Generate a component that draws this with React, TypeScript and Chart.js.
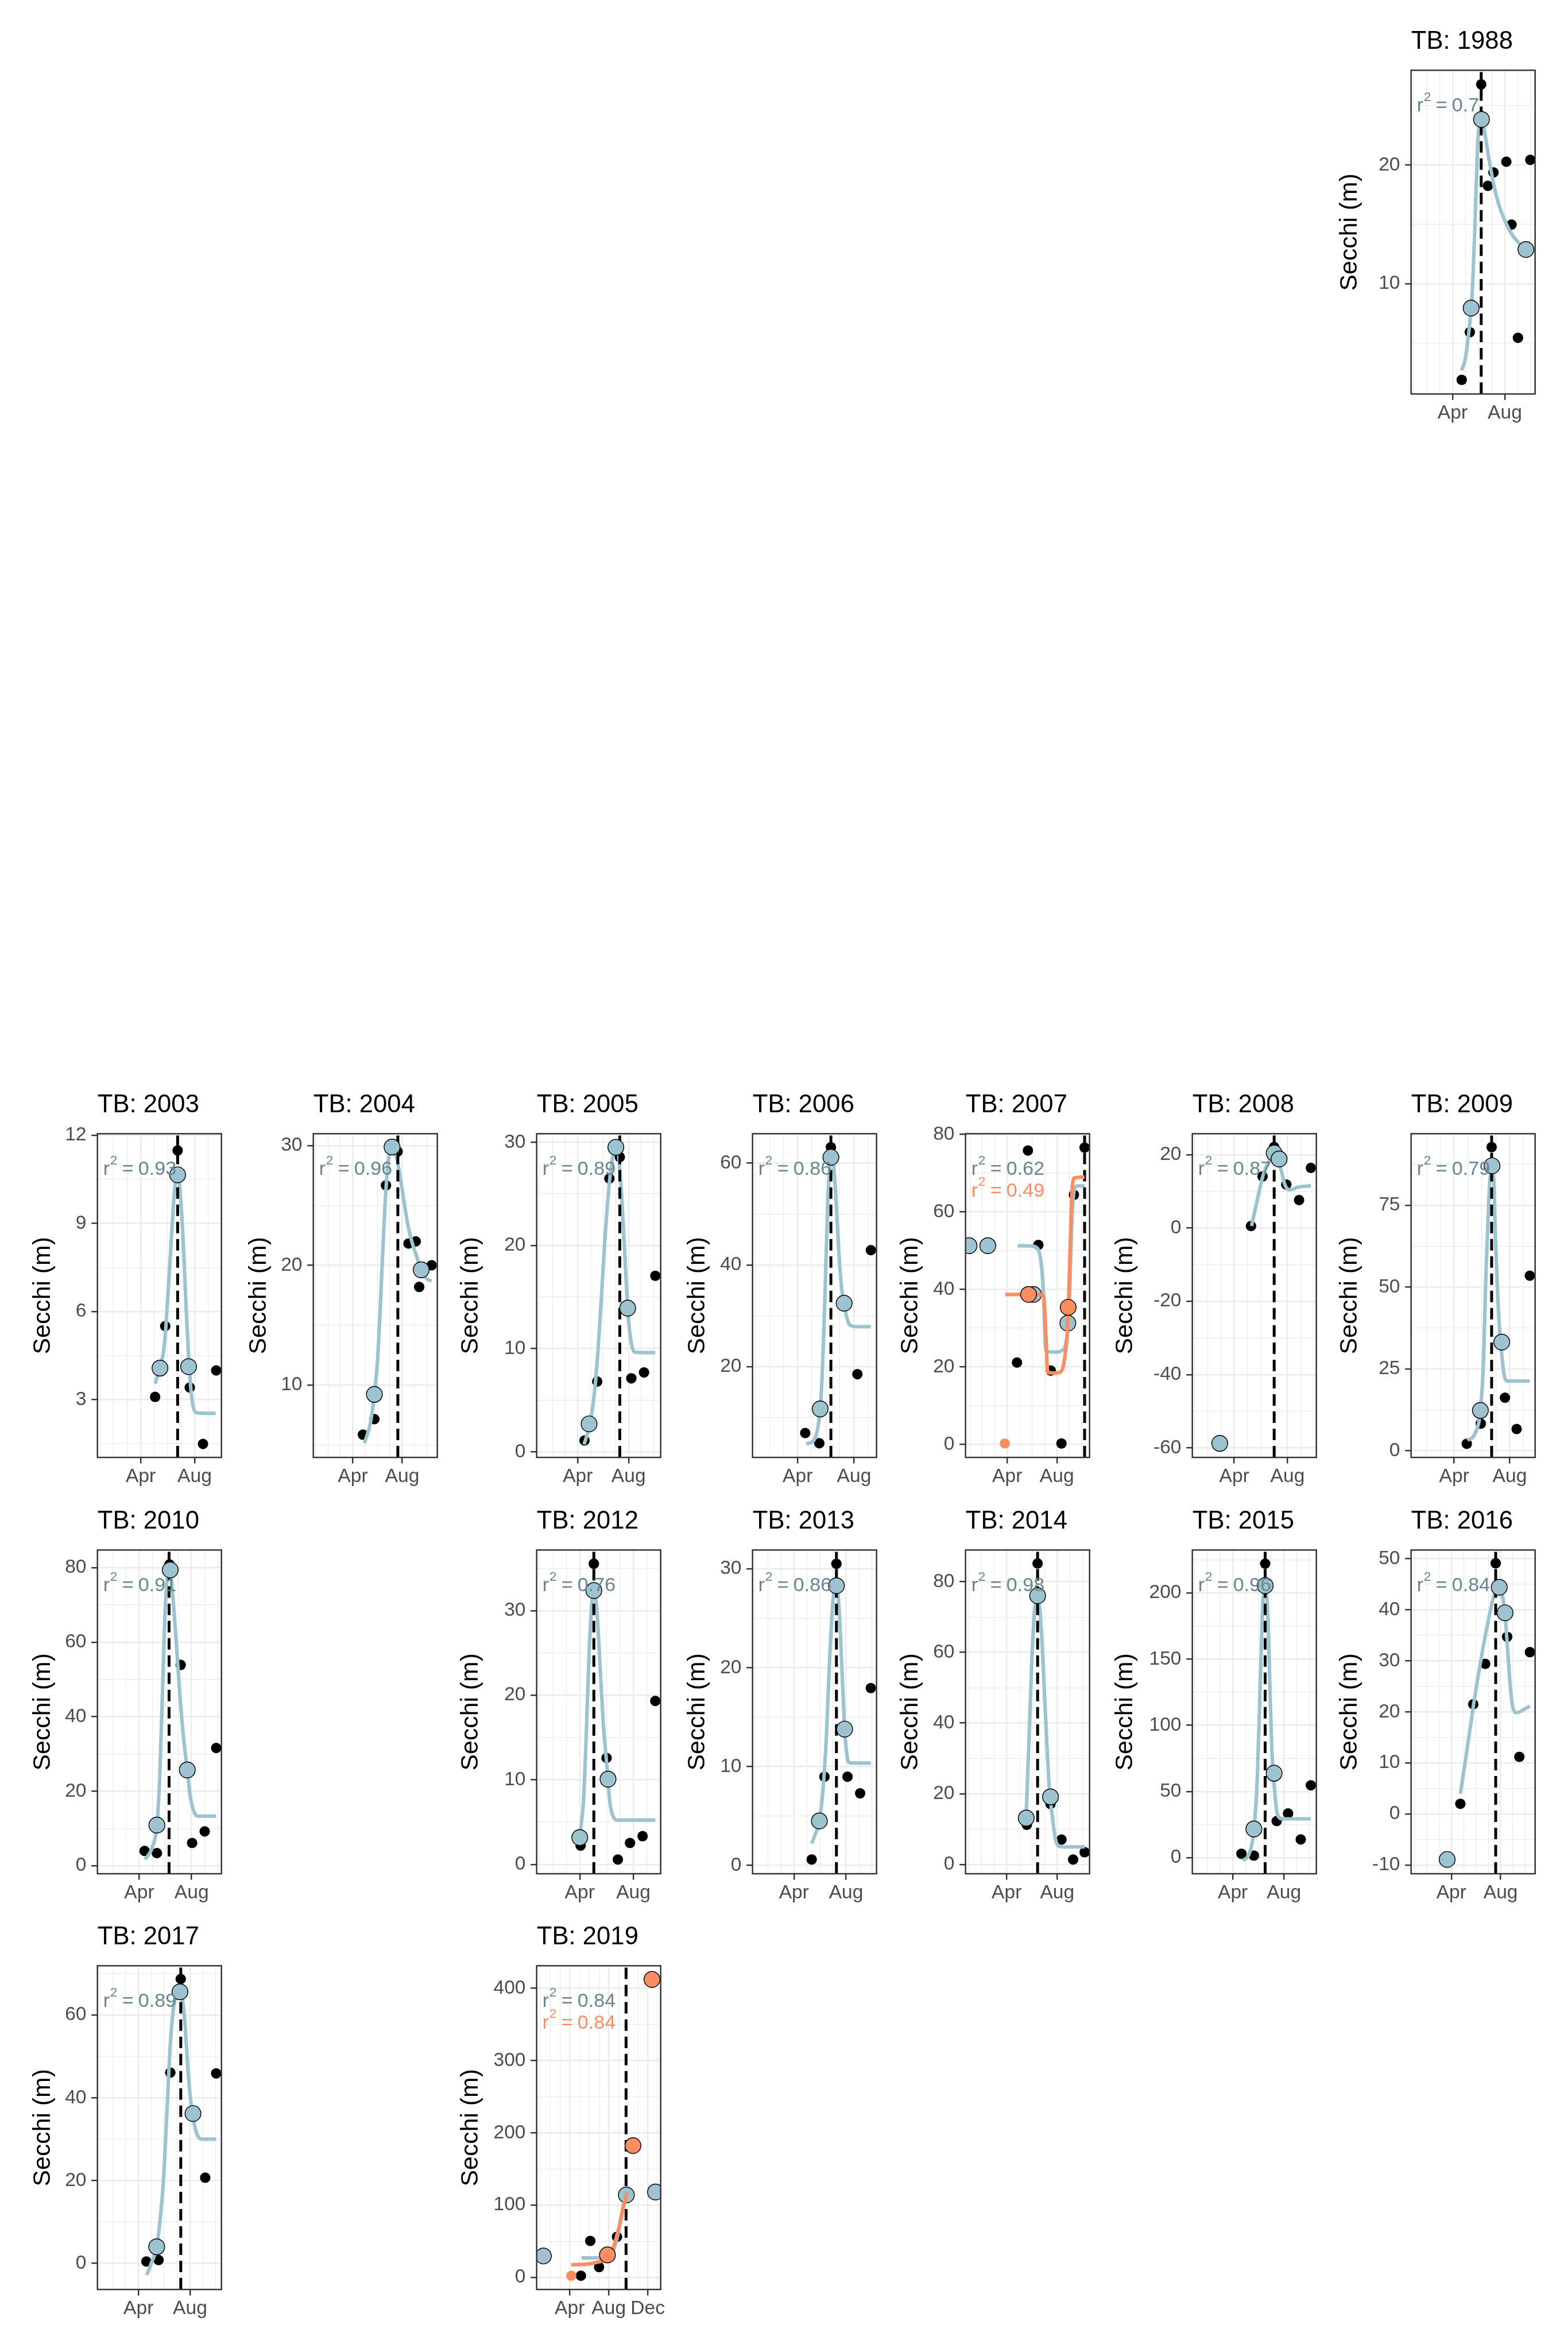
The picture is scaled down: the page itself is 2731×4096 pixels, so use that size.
import React, { useEffect, useRef } from 'react';
import { Chart, registerables } from 'chart.js';

Chart.register(...registerables);

type Pt = [number, number];

// x values are months since 1 January (Apr = 3, Aug = 7, Dec = 11); y values are Secchi (m)
const monthBreaks = [3, 7, 11];
const monthLabels = ['Apr', 'Aug', 'Dec'];
const yTitleText = 'Secchi (m)';
const titlePrefix = 'TB: ';

// ---- 1988 ----
const obs1988: Pt[] = [[3.70, 1.91], [4.32, 5.92], [5.19, 26.78], [5.70, 18.24], [6.13, 19.37], [7.11, 20.27], [7.51, 14.98], [8.00, 5.45], [8.94, 20.43]];
const fit1988: Pt[] = [[4.42, 7.95], [5.21, 23.83], [8.61, 12.88]];
const curve1988: Pt[] = [[3.67, 2.7], [3.94, 3.5], [4.20, 5.5], [4.42, 7.95], [4.54, 10.0], [4.70, 14.5], [4.90, 21.3], [5.01, 23.1], [5.21, 24.0], [5.43, 22.9], [5.77, 20.6], [6.10, 18.6], [6.50, 16.8], [7.04, 15.2], [7.57, 14.1], [8.10, 13.4], [8.51, 13.0]];
const peak1988 = 5.19;
const r2_1988 = '0.7';
const xLim1988: Pt = [-0.17, 9.31];
const yLim1988: Pt = [0.72, 27.97];
const yBreaks1988 = [10, 20];

// ---- 2003 ----
const obs2003: Pt[] = [[4.07, 3.09], [4.82, 5.50], [5.74, 11.48], [6.64, 3.41], [7.62, 1.49], [8.60, 3.99]];
const fit2003: Pt[] = [[4.43, 4.07], [5.74, 10.65], [6.55, 4.12]];
const curve2003: Pt[] = [[4.07, 3.54], [4.50, 4.22], [4.71, 4.67], [4.88, 5.57], [5.03, 6.65], [5.25, 8.27], [5.46, 9.81], [5.61, 10.53], [5.78, 10.71], [5.89, 10.26], [6.06, 9.18], [6.21, 7.82], [6.38, 6.02], [6.53, 4.67], [6.68, 3.59], [6.85, 2.86], [7.17, 2.55], [8.56, 2.53]];
const peak2003 = 5.74;
const r2_2003 = '0.93';
const xLim2003: Pt = [-0.21, 8.99];
const yLim2003: Pt = [1.03, 12.05];
const yBreaks2003 = [3, 6, 9, 12];

// ---- 2004 ----
const obs2004: Pt[] = [[3.82, 5.86], [4.75, 7.16], [5.69, 26.67], [6.63, 29.49], [7.51, 21.81], [8.10, 21.99], [8.38, 18.19], [9.39, 20.0]];
const fit2004: Pt[] = [[4.75, 9.22], [6.18, 29.87], [8.54, 19.62]];
const curve2004: Pt[] = [[3.94, 5.15], [4.40, 6.71], [4.75, 9.22], [4.99, 11.86], [5.22, 16.33], [5.46, 21.92], [5.69, 26.40], [5.92, 29.08], [6.18, 29.87], [6.44, 29.42], [6.74, 27.96], [7.09, 25.73], [7.44, 23.49], [7.80, 21.92], [8.15, 20.81], [8.54, 19.62], [8.96, 18.90], [9.39, 18.68]];
const peak2004 = 6.65;
const r2_2004 = '0.96';
const xLim2004: Pt = [-0.20, 9.85];
const yLim2004: Pt = [3.96, 30.98];
const yBreaks2004 = [10, 20, 30];

// ---- 2005 ----
const obs2005: Pt[] = [[3.53, 1.09], [4.53, 6.81], [5.49, 26.49], [6.31, 28.57], [7.22, 7.12], [8.22, 7.69], [9.11, 17.06]];
const fit2005: Pt[] = [[3.89, 2.70], [6.00, 29.51], [6.93, 13.92]];
const curve2005: Pt[] = [[3.49, 0.70], [3.89, 2.39], [4.27, 5.25], [4.60, 9.92], [4.93, 16.42], [5.27, 22.91], [5.60, 27.32], [5.93, 29.27], [6.16, 29.09], [6.42, 25.51], [6.71, 19.01], [6.93, 13.92], [7.16, 10.96], [7.49, 9.66], [8.38, 9.61], [9.11, 9.61]];
const peak2005 = 6.31;
const r2_2005 = '0.89';
const xLim2005: Pt = [-0.24, 9.53];
const yLim2005: Pt = [-0.55, 30.83];
const yBreaks2005 = [0, 10, 20, 30];

// ---- 2006 ----
const obs2006: Pt[] = [[3.54, 6.93], [4.54, 4.93], [5.36, 63.16], [7.24, 18.52], [8.20, 42.90]];
const fit2006: Pt[] = [[4.60, 11.68], [5.36, 61.16], [6.30, 32.47]];
const curve2006: Pt[] = [[3.60, 4.83], [4.14, 5.46], [4.44, 8.09], [4.60, 11.68], [4.74, 18.10], [4.94, 33.91], [5.14, 52.35], [5.34, 60.25], [5.48, 60.78], [5.68, 54.98], [5.94, 41.81], [6.14, 34.96], [6.30, 32.43], [6.48, 29.69], [6.74, 28.11], [7.24, 27.85], [8.20, 27.85]];
const peak2006 = 5.36;
const r2_2006 = '0.86';
const xLim2006: Pt = [-0.20, 8.60];
const yLim2006: Pt = [2.14, 65.8];
const yBreaks2006 = [20, 40, 60];

// ---- 2007 ----
const obs2007: Pt[] = [[3.79, 21.09], [4.67, 75.80], [5.51, 51.45], [6.51, 19.02], [7.37, 0.21], [8.37, 64.38], [9.23, 76.56]];
const fit2007: Pt[] = [[-0.07, 51.24], [1.44, 51.24], [5.12, 38.66], [7.88, 31.26]];
const curve2007: Pt[] = [[3.84, 51.24], [5.05, 51.11], [5.47, 50.41], [5.74, 46.61], [5.93, 38.31], [6.09, 24.48], [6.26, 23.93], [6.91, 23.79], [7.37, 24.14], [7.65, 25.17], [7.84, 28.63], [8.02, 38.31], [8.21, 57.68], [8.42, 65.98], [8.65, 66.67], [9.23, 66.67]];
const fitOrange2007: Pt[] = [[4.72, 38.66], [7.91, 35.34]];
const curveOrange2007: Pt[] = [[2.84, 38.66], [5.51, 38.66], [5.93, 38.31], [6.12, 27.94], [6.26, 18.60], [6.67, 18.40], [7.26, 18.60], [7.60, 21.72], [7.88, 31.40], [8.07, 50.76], [8.23, 65.98], [8.42, 68.74], [9.23, 68.95]];
const dotOrange2007: Pt[] = [[2.81, 0.21]];
const peak2007 = 9.23;
const r2_2007 = '0.62';
const r2Orange2007 = '0.49';
const xLim2007: Pt = [-0.35, 9.63];
const yLim2007: Pt = [-3.39, 80.14];
const yBreaks2007 = [0, 20, 40, 60, 80];

// ---- 2008 ----
const obs2008: Pt[] = [[4.26, 0.51], [5.13, 14.04], [6.00, 22.1], [6.91, 11.85], [7.87, 7.60], [8.76, 16.38]];
const fit2008: Pt[] = [[1.91, -58.76], [6.00, 20.40], [6.37, 18.80]];
const curve2008: Pt[] = [[4.30, 0.51], [4.74, 7.82], [5.17, 14.41], [5.61, 18.06], [5.93, 19.52], [6.26, 19.16], [6.52, 15.87], [6.80, 11.85], [7.17, 10.38], [7.78, 11.11], [8.76, 11.48]];
const peak2008 = 6.00;
const r2_2008 = '0.87';
const xLim2008: Pt = [-0.15, 9.17];
const yLim2008: Pt = [-62.6, 25.7];
const yBreaks2008 = [-60, -40, -20, 0, 20];

// ---- 2009 ----
const obs2009: Pt[] = [[3.91, 2.13], [4.92, 8.27], [5.70, 92.8], [6.66, 16.2], [7.50, 6.63], [8.45, 53.5]];
const fit2009: Pt[] = [[4.89, 12.3], [5.73, 87.1], [6.43, 33.2]];
const curve2009: Pt[] = [[3.97, 3.11], [4.54, 5.57], [4.89, 12.29], [5.11, 26.86], [5.30, 55.53], [5.49, 76.00], [5.60, 84.0], [5.73, 86.0], [5.86, 82.0], [5.99, 63.72], [6.24, 39.15], [6.43, 29.32], [6.62, 22.77], [6.87, 21.29], [8.45, 21.29]];
const peak2009 = 5.70;
const r2_2009 = '0.79';
const xLim2009: Pt = [-0.10, 8.83];
const yLim2009: Pt = [-2.05, 96.9];
const yBreaks2009 = [0, 25, 50, 75];

// ---- 2010 ----
const obs2010: Pt[] = [[3.41, 3.96], [4.35, 3.38], [5.31, 80.9], [6.17, 53.9], [7.04, 6.1], [8.00, 9.2], [8.88, 31.6]];
const fit2010: Pt[] = [[4.35, 10.9], [5.37, 79.4], [6.67, 25.7]];
const curve2010: Pt[] = [[3.44, 1.65], [3.97, 4.68], [4.35, 10.94], [4.57, 24.10], [4.80, 49.28], [5.01, 70.86], [5.20, 78.06], [5.37, 78.78], [5.57, 72.30], [5.84, 59.35], [6.11, 45.68], [6.37, 34.89], [6.67, 25.68], [6.91, 18.35], [7.24, 14.03], [7.51, 13.31], [8.88, 13.31]];
const peak2010 = 5.28;
const r2_2010 = '0.91';
const xLim2010: Pt = [-0.19, 9.28];
const yLim2010: Pt = [-2.16, 84.75];
const yBreaks2010 = [0, 20, 40, 60, 80];

// ---- 2012 ----
const obs2012: Pt[] = [[3.06, 2.22], [4.05, 35.54], [5.00, 12.58], [5.84, 0.57], [6.75, 2.53], [7.69, 3.33], [8.64, 19.32]];
const fit2012: Pt[] = [[3.00, 3.17], [4.05, 32.37], [5.11, 10.07]];
const curve2012: Pt[] = [[3.06, 4.12], [3.27, 7.29], [3.48, 15.20], [3.69, 24.71], [3.91, 31.04], [4.07, 31.99], [4.26, 30.41], [4.47, 24.71], [4.75, 16.79], [5.00, 12.04], [5.25, 7.29], [5.53, 5.54], [5.84, 5.23], [8.64, 5.23]];
const peak2012 = 4.05;
const r2_2012 = '0.76';
const xLim2012: Pt = [-0.22, 9.04];
const yLim2012: Pt = [-1.11, 37.16];
const yBreaks2012 = [0, 10, 20, 30];

// ---- 2013 ----
const obs2013: Pt[] = [[4.36, 0.60], [5.34, 8.97], [6.26, 30.51], [7.11, 8.97], [8.08, 7.29], [8.90, 17.94]];
const fit2013: Pt[] = [[4.95, 4.50], [6.26, 28.29], [6.89, 13.79]];
const curve2013: Pt[] = [[4.36, 2.22], [4.62, 3.09], [4.95, 4.50], [5.23, 7.70], [5.49, 13.12], [5.75, 21.25], [6.03, 27.21], [6.26, 28.16], [6.46, 26.12], [6.68, 19.89], [6.89, 13.79], [7.04, 11.49], [7.22, 10.41], [7.65, 10.35], [8.90, 10.35]];
const peak2013 = 6.26;
const r2_2013 = '0.86';
const xLim2013: Pt = [-0.18, 9.34];
const yLim2013: Pt = [-0.84, 31.9];
const yBreaks2013 = [0, 10, 20, 30];

// ---- 2014 ----
const obs2014: Pt[] = [[4.60, 11.2], [5.45, 85.2], [6.47, 17.1], [7.34, 7.0], [8.26, 1.37], [9.17, 3.42]];
const fit2014: Pt[] = [[4.55, 13.1], [5.45, 76.05], [6.47, 19.1]];
const curve2014: Pt[] = [[4.55, 14.42], [4.78, 36.43], [5.01, 59.20], [5.24, 72.87], [5.45, 74.76], [5.67, 70.59], [5.90, 55.41], [6.15, 36.43], [6.38, 21.25], [6.61, 13.66], [6.84, 7.59], [7.11, 5.16], [7.57, 4.93], [9.17, 4.93]];
const peak2014 = 5.45;
const r2_2014 = '0.98';
const xLim2014: Pt = [-0.25, 9.56];
const yLim2014: Pt = [-2.66, 89.0];
const yBreaks2014 = [0, 20, 40, 60, 80];

// ---- 2015 ----
const obs2015: Pt[] = [[3.68, 3.0], [4.65, 1.6], [5.53, 222.1], [6.43, 27.7], [7.32, 33.4], [8.31, 13.8], [9.10, 54.7]];
const fit2015: Pt[] = [[4.65, 21.7], [5.53, 205.5], [6.23, 63.8]];
const curve2015: Pt[] = [[3.75, -2.02], [4.24, 2.02], [4.65, 21.26], [4.92, 61.74], [5.15, 132.59], [5.33, 189.27], [5.53, 203.44], [5.71, 189.27], [5.89, 132.59], [6.05, 81.98], [6.23, 55.67], [6.43, 35.43], [6.62, 30.36], [6.95, 29.35], [9.10, 29.35]];
const peak2015 = 5.53;
const r2_2015 = '0.96';
const xLim2015: Pt = [-0.16, 9.53];
const yLim2015: Pt = [-12.1, 232.4];
const yBreaks2015 = [0, 50, 100, 150, 200];

// ---- 2016 ----
const obs2016: Pt[] = [[3.73, 2.0], [4.78, 21.5], [5.75, 29.4], [6.60, 49.1], [7.53, 34.7], [8.52, 11.2], [9.38, 31.7]];
const fit2016: Pt[] = [[2.66, -8.9], [6.89, 44.4], [7.36, 39.4]];
const curve2016: Pt[] = [[3.73, 3.94], [4.25, 12.23], [4.82, 21.68], [5.39, 30.08], [5.96, 37.43], [6.39, 42.15], [6.74, 44.25], [7.10, 43.20], [7.36, 39.00], [7.60, 31.13], [7.81, 24.30], [8.02, 20.63], [8.31, 19.84], [8.81, 20.37], [9.38, 21.15]];
const peak2016 = 6.60;
const r2_2016 = '0.84';
const xLim2016: Pt = [-0.27, 9.80];
const yLim2016: Pt = [-11.7, 51.7];
const yBreaks2016 = [-10, 0, 10, 20, 30, 40, 50];

// ---- 2017 ----
const obs2017: Pt[] = [[3.61, 0.46], [4.56, 0.80], [5.47, 46.1], [6.28, 68.7], [8.18, 20.7], [9.03, 45.9]];
const fit2017: Pt[] = [[4.41, 4.0], [6.22, 65.6], [7.23, 36.2]];
const curve2017: Pt[] = [[3.64, -2.85], [4.05, 0.46], [4.41, 3.8], [4.65, 9.75], [4.93, 19.7], [5.20, 36.3], [5.47, 52.9], [5.74, 62.2], [6.01, 65.2], [6.21, 65.5], [6.42, 63.5], [6.62, 57.5], [6.82, 47.6], [7.09, 38.3], [7.43, 32.3], [7.71, 30.3], [7.98, 30.0], [9.03, 30.0]];
const peak2017 = 6.28;
const r2_2017 = '0.89';
const xLim2017: Pt = [-0.19, 9.44];
const yLim2017: Pt = [-6.3, 71.9];
const yBreaks2017 = [0, 20, 40, 60];

// ---- 2019 ----
const obs2019: Pt[] = [[4.15, 2.3], [5.11, 50.5], [6.01, 14.4], [7.85, 56.2]];
const fit2019: Pt[] = [[0.30, 29.6], [8.81, 114.0], [11.80, 118.1]];
const curve2019: Pt[] = [[4.21, 27.0], [5.92, 27.0], [6.82, 27.7], [7.36, 33.4], [7.71, 46.7], [8.07, 67.6], [8.42, 94.2], [8.78, 114.0]];
const fitOrange2019: Pt[] = [[6.87, 31.1], [9.49, 182.3], [11.44, 412.2]];
const curveOrange2019: Pt[] = [[3.16, 17.5], [4.66, 18.2], [5.92, 21.3], [6.82, 25.8], [7.36, 37.2], [7.80, 56.2], [8.16, 75.2], [8.51, 98.0], [8.87, 117.0]];
const dotOrange2019: Pt[] = [[3.16, 2.3]];
const peak2019 = 8.78;
const r2_2019 = '0.84';
const r2Orange2019 = '0.84';
const xLim2019: Pt = [-0.39, 12.33];
const yLim2019: Pt = [-16.7, 431.1];
const yBreaks2019 = [0, 100, 200, 300, 400];

interface PanelSpec {
  year: string;
  obs: Pt[];
  fit: Pt[];
  curve: Pt[];
  fitO?: Pt[];
  curveO?: Pt[];
  dotO?: Pt[];
  peak: number;
  r2: string;
  r2O?: string;
  xLim: Pt;
  yLim: Pt;
  yBreaks: number[];
}

const panels: PanelSpec[] = [
  { year: '1988', obs: obs1988, fit: fit1988, curve: curve1988, peak: peak1988, r2: r2_1988, xLim: xLim1988, yLim: yLim1988, yBreaks: yBreaks1988 },
  { year: '2003', obs: obs2003, fit: fit2003, curve: curve2003, peak: peak2003, r2: r2_2003, xLim: xLim2003, yLim: yLim2003, yBreaks: yBreaks2003 },
  { year: '2004', obs: obs2004, fit: fit2004, curve: curve2004, peak: peak2004, r2: r2_2004, xLim: xLim2004, yLim: yLim2004, yBreaks: yBreaks2004 },
  { year: '2005', obs: obs2005, fit: fit2005, curve: curve2005, peak: peak2005, r2: r2_2005, xLim: xLim2005, yLim: yLim2005, yBreaks: yBreaks2005 },
  { year: '2006', obs: obs2006, fit: fit2006, curve: curve2006, peak: peak2006, r2: r2_2006, xLim: xLim2006, yLim: yLim2006, yBreaks: yBreaks2006 },
  { year: '2007', obs: obs2007, fit: fit2007, curve: curve2007, fitO: fitOrange2007, curveO: curveOrange2007, dotO: dotOrange2007, peak: peak2007, r2: r2_2007, r2O: r2Orange2007, xLim: xLim2007, yLim: yLim2007, yBreaks: yBreaks2007 },
  { year: '2008', obs: obs2008, fit: fit2008, curve: curve2008, peak: peak2008, r2: r2_2008, xLim: xLim2008, yLim: yLim2008, yBreaks: yBreaks2008 },
  { year: '2009', obs: obs2009, fit: fit2009, curve: curve2009, peak: peak2009, r2: r2_2009, xLim: xLim2009, yLim: yLim2009, yBreaks: yBreaks2009 },
  { year: '2010', obs: obs2010, fit: fit2010, curve: curve2010, peak: peak2010, r2: r2_2010, xLim: xLim2010, yLim: yLim2010, yBreaks: yBreaks2010 },
  { year: '2012', obs: obs2012, fit: fit2012, curve: curve2012, peak: peak2012, r2: r2_2012, xLim: xLim2012, yLim: yLim2012, yBreaks: yBreaks2012 },
  { year: '2013', obs: obs2013, fit: fit2013, curve: curve2013, peak: peak2013, r2: r2_2013, xLim: xLim2013, yLim: yLim2013, yBreaks: yBreaks2013 },
  { year: '2014', obs: obs2014, fit: fit2014, curve: curve2014, peak: peak2014, r2: r2_2014, xLim: xLim2014, yLim: yLim2014, yBreaks: yBreaks2014 },
  { year: '2015', obs: obs2015, fit: fit2015, curve: curve2015, peak: peak2015, r2: r2_2015, xLim: xLim2015, yLim: yLim2015, yBreaks: yBreaks2015 },
  { year: '2016', obs: obs2016, fit: fit2016, curve: curve2016, peak: peak2016, r2: r2_2016, xLim: xLim2016, yLim: yLim2016, yBreaks: yBreaks2016 },
  { year: '2017', obs: obs2017, fit: fit2017, curve: curve2017, peak: peak2017, r2: r2_2017, xLim: xLim2017, yLim: yLim2017, yBreaks: yBreaks2017 },
  { year: '2019', obs: obs2019, fit: fit2019, curve: curve2019, fitO: fitOrange2019, curveO: curveOrange2019, dotO: dotOrange2019, peak: peak2019, r2: r2_2019, r2O: r2Orange2019, xLim: xLim2019, yLim: yLim2019, yBreaks: yBreaks2019 },
];

// ---------------- layout & style (reference pixel units, scaled by S) ----------------
const S = 0.91;
const s = (v: number) => v * S;
const FONT = '"Liberation Sans", Arial, Helvetica, sans-serif';
const BLUE = '#9DC3D0';
const BLUE_TEXT = '#68868F';
const ORANGE = '#FC8D62';
const GRID = '#EBEBEB';
const DARK = '#333333';

const panelGrid: Record<string, { col: number; row: number }> = {
  '1988': { col: 6, row: 0 },
  '2003': { col: 0, row: 1 }, '2004': { col: 1, row: 1 }, '2005': { col: 2, row: 1 }, '2006': { col: 3, row: 1 },
  '2007': { col: 4, row: 1 }, '2008': { col: 5, row: 1 }, '2009': { col: 6, row: 1 },
  '2010': { col: 0, row: 2 }, '2012': { col: 2, row: 2 }, '2013': { col: 3, row: 2 }, '2014': { col: 4, row: 2 },
  '2015': { col: 5, row: 2 }, '2016': { col: 6, row: 2 },
  '2017': { col: 0, row: 3 }, '2019': { col: 2, row: 3 },
};
const COL_LEFT = [186.5, 600, 1027.5, 1440, 1848, 2281.6, 2700.5];
const COL_YTITLE = [88, 88, 110, 89, 89, 111.6, 100.5];
const ROW_TOP = [134, 2169.5, 2966, 3762];
const PANEL_W = 237;
const PANEL_H = 620;
const Y_BOX = 170;
const X_BOX = 80;
const PAD_T = 5;
const PAD_R = 30;
const PAD_B = 10;
const TITLE_SIZE = 48;
const TITLE_GAP = 25.7;
const TICK_LEN = 11.5;
const CURVE_W = 6.8;

Chart.defaults.font.family = FONT;

const xy = (pts: Pt[]) => pts.map(([x, y]) => ({ x, y }));

function drawR2(ctx: CanvasRenderingContext2D, x: number, y: number, value: string, color: string) {
  const big = `${s(37.5)}px ${FONT}`;
  const small = `${s(25)}px ${FONT}`;
  ctx.fillStyle = color;
  ctx.textAlign = 'left';
  ctx.textBaseline = 'alphabetic';
  ctx.font = big;
  ctx.fillText('r', x, y);
  let cx = x + ctx.measureText('r').width + s(0.8);
  ctx.font = small;
  ctx.fillText('2', cx, y - s(20));
  cx += ctx.measureText('2').width + s(9);
  ctx.font = big;
  ctx.fillText('=', cx, y);
  cx += ctx.measureText('=').width + s(9);
  ctx.fillText(value, cx, y);
}

function buildConfig(p: PanelSpec, yTitleOffset: number): any {
  const majorsY = new Set(p.yBreaks);
  const step = p.yBreaks.length > 1 ? p.yBreaks[1] - p.yBreaks[0] : 10;
  const yGrid: number[] = [];
  for (let v = p.yBreaks[0] - step / 2; v <= p.yBreaks[p.yBreaks.length - 1] + step / 2 + 1e-9; v += step / 2) {
    const r = Math.round(v * 1000) / 1000;
    if (r >= p.yLim[0] && r <= p.yLim[1]) yGrid.push(r);
  }
  const xGrid: number[] = [];
  for (let m = Math.ceil(p.xLim[0]); m <= Math.floor(p.xLim[1]); m++) xGrid.push(m);
  const majorsX = new Set(monthBreaks);

  const datasets: any[] = [
    {
      label: 'observed', data: xy(p.obs), showLine: false, pointRadius: s(10),
      pointBackgroundColor: '#000000', pointBorderWidth: 0, order: 6,
    },
    {
      label: 'fit curve', data: xy(p.curve), showLine: true, borderColor: BLUE, borderWidth: s(CURVE_W),
      pointRadius: 0, cubicInterpolationMode: 'monotone', borderJoinStyle: 'round', order: 5,
    },
    {
      label: 'peak', data: [{ x: p.peak, y: p.yLim[0] }, { x: p.peak, y: p.yLim[1] }], showLine: true,
      borderColor: '#000000', borderWidth: s(5.5), borderDash: [s(22), s(11)], pointRadius: 0, order: 4,
    },
    {
      label: 'fit points', data: xy(p.fit), showLine: false, pointRadius: s(15.2),
      pointBackgroundColor: BLUE, pointBorderColor: '#000000', pointBorderWidth: s(1.6), order: 3,
    },
  ];
  if (p.curveO) {
    datasets.push({
      label: 'fit curve 2', data: xy(p.curveO), showLine: true, borderColor: ORANGE, borderWidth: s(CURVE_W),
      pointRadius: 0, cubicInterpolationMode: 'monotone', borderJoinStyle: 'round', order: 2,
    });
  }
  if (p.fitO) {
    datasets.push({
      label: 'fit points 2', data: xy(p.fitO), showLine: false, pointRadius: s(15.2),
      pointBackgroundColor: ORANGE, pointBorderColor: '#000000', pointBorderWidth: s(1.6), order: 1,
    });
  }
  if (p.dotO) {
    datasets.push({
      label: 'orange obs', data: xy(p.dotO), showLine: false, pointRadius: s(9.8),
      pointBackgroundColor: ORANGE, pointBorderWidth: 0, order: 0,
    });
  }

  const labels: { value: string; color: string }[] = [{ value: p.r2, color: BLUE_TEXT }];
  if (p.r2O) labels.push({ value: p.r2O, color: ORANGE });

  const decor = {
    id: 'panelDecor',
    afterDatasetsDraw(chart: any) {
      const { ctx, chartArea: a } = chart;
      ctx.save();
      labels.forEach((l, i) => drawR2(ctx, a.left + s(11), a.top + s(79 + 41 * i), l.value, l.color));
      ctx.strokeStyle = DARK;
      ctx.lineWidth = s(2.7);
      ctx.strokeRect(a.left, a.top, a.right - a.left, a.bottom - a.top);
      ctx.restore();
    },
  };

  const zeroPad = (scale: any) => {
    scale.paddingLeft = 0; scale.paddingRight = 0; scale.paddingTop = 0; scale.paddingBottom = 0;
  };

  return {
    type: 'scatter',
    data: { datasets },
    plugins: [decor],
    options: {
      animation: false,
      responsive: false,
      devicePixelRatio: 1,
      events: [],
      layout: { autoPadding: false, padding: { left: 0, top: s(PAD_T), right: s(PAD_R), bottom: s(PAD_B) } },
      plugins: {
        legend: { display: false },
        tooltip: { enabled: false },
        title: {
          display: true, text: titlePrefix + p.year, align: 'start', fullSize: false, color: '#000000',
          font: { family: FONT, size: s(TITLE_SIZE), weight: 'normal', lineHeight: 1.2 },
          padding: { top: 0, bottom: s(TITLE_GAP) },
        },
      },
      scales: {
        x: {
          type: 'linear', min: p.xLim[0], max: p.xLim[1], bounds: 'data',
          afterBuildTicks: (scale: any) => { scale.ticks = xGrid.map((v) => ({ value: v })); },
          afterFit: (scale: any) => { scale.height = s(X_BOX); zeroPad(scale); },
          ticks: {
            autoSkip: false, maxRotation: 0, minRotation: 0, padding: s(3.5), color: '#4D4D4D',
            font: { family: FONT, size: s(37), lineHeight: 1.2 },
            callback: (v: number) => { const i = monthBreaks.indexOf(v); return i >= 0 ? monthLabels[i] : ''; },
          },
          grid: {
            color: GRID,
            lineWidth: (c: any) => (c.tick && majorsX.has(c.tick.value) ? s(2.7) : s(1.35)),
            drawTicks: true, tickLength: s(TICK_LEN), tickWidth: s(2.7),
            tickColor: (c: any) => (c.tick && majorsX.has(c.tick.value) ? DARK : 'rgba(0,0,0,0)'),
          },
          border: { display: false },
        },
        y: {
          type: 'linear', min: p.yLim[0], max: p.yLim[1], bounds: 'data',
          afterBuildTicks: (scale: any) => { scale.ticks = yGrid.map((v) => ({ value: v })); },
          afterFit: (scale: any) => { scale.width = s(Y_BOX); zeroPad(scale); },
          ticks: {
            autoSkip: false, padding: s(9.5), color: '#4D4D4D',
            font: { family: FONT, size: s(37), lineHeight: 1.2 },
            callback: (v: number) => (majorsY.has(v) ? String(v) : ''),
          },
          grid: {
            color: GRID,
            lineWidth: (c: any) => (c.tick && majorsY.has(c.tick.value) ? s(2.7) : s(1.35)),
            drawTicks: true, tickLength: s(TICK_LEN), tickWidth: s(2.7),
            tickColor: (c: any) => (c.tick && majorsY.has(c.tick.value) ? DARK : 'rgba(0,0,0,0)'),
          },
          border: { display: false },
          title: {
            display: true, text: yTitleText, color: '#000000',
            font: { family: FONT, size: s(47), lineHeight: 1.2 },
            padding: { top: s(Y_BOX - yTitleOffset - 16.3 - 28.2), bottom: 0 },
          },
        },
      },
    },
  };
}

function PanelChart({ panel }: { panel: PanelSpec }) {
  const ref = useRef<HTMLCanvasElement | null>(null);
  const pos = panelGrid[panel.year];
  const PL = COL_LEFT[pos.col];
  const PT = ROW_TOP[pos.row];
  const titleBox = TITLE_SIZE * 1.2 + TITLE_GAP;
  const left = Math.round(s(PL - Y_BOX));
  const top = Math.round(s(PT - PAD_T - titleBox));
  const width = Math.round(s(Y_BOX + PANEL_W + PAD_R));
  const height = Math.round(s(PAD_T + titleBox + PANEL_H + X_BOX + PAD_B));

  useEffect(() => {
    if (!ref.current) return;
    const chart = new Chart(ref.current, buildConfig(panel, COL_YTITLE[pos.col]));
    return () => chart.destroy();
  }, [panel]);

  return (
    <canvas
      ref={ref}
      width={width}
      height={height}
      style={{ position: 'absolute', left, top, width, height }}
    />
  );
}

export default function App() {
  return (
    <div style={{ position: 'absolute', left: 0, top: 0, width: 2731, height: 4096, background: '#FFFFFF', overflow: 'hidden' }}>
      {panels.map((p) => (
        <PanelChart key={p.year} panel={p} />
      ))}
    </div>
  );
}
